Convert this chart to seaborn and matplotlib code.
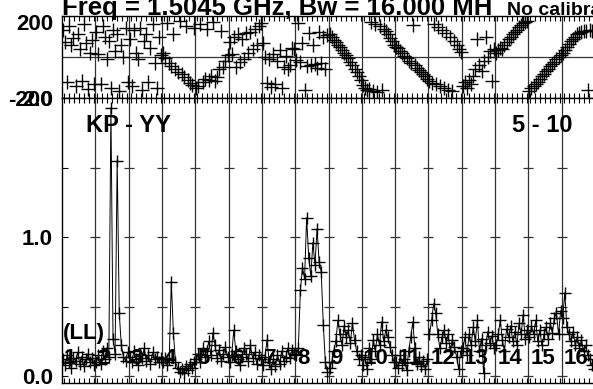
import numpy as np
import pandas as pd
import matplotlib
matplotlib.use("Agg")
import matplotlib.pyplot as plt
import seaborn as sns
from matplotlib.transforms import ScaledTranslation

# 16 IFs x 16 channels
n_if = 16
n_chan = 16
if_labels = [str(i) for i in range(1, n_if + 1)]
title = "Freq = 1.5045 GHz, Bw = 16.000 MH"
title_note = "No calibration"
baseline_label = "KP - YY"
time_label = "5 - 10"
stokes_label = "(LL)"

phase = [
    130, 75, -120, 150, 60, 95, -140, 110, 40, -115, 160, 70, -155, 20, 85, -130,
    120, 15, -130, 150, 100, -10, 80, -150, 130, 30, 110, -165, 60, 0, 140, -120,
    90, -140, 130, 20, -10, 140, -160, 80, 110, -120, 45, 160, -30, -150, 100, 10,
    20, -5, 165, -30, -45, 110, -60, -75, 175, -85, -100, 150, -110, -125, -135, 140,
    -150, -140, 160, -120, -105, 135, -110, -95, 170, -115, -100, -60, 125, -50, -20, 10,
    75, 15, 100, -50, 110, -25, 90, -10, 115, 20, 120, 40, 135, 60, 150, 165,
    70, 0, -125, -10, -145, 15, -130, -20, 35, -150, -50, 5, -60, -40, 45, 40,
    -15, 165, -25, 70, -160, -45, 115, -40, 60, -35, -55, 120, -30, 100, -60, 105,
    110, 100, 85, 75, 60, 50, 35, 20, 10, -5, -25, -40, -60, -75, -95, -110,
    -135, -150, -160, -155, 172, -165, 160, -170, 150, -160, 135, 125, 110, 95, 80, 60,
    50, 45, 30, 20, 5, -5, -20, -30, 155, -40, -55, -65, -75, -85, -95, -105,
    -115, -125, 160, -130, 145, -140, 130, -150, 115, -160, 100, -165, 80, 60, 40, 25,
    -140, -120, -150, -110, -130, -95, -60, 90, -40, -70, -20, 100, 0, 30, -115, 40,
    20, 35, 45, 40, 60, 75, 90, 100, 110, 120, 130, 145, 155, 165, 170, 178,
    -165, -150, -140, -130, -120, -105, -95, -85, -70, -60, -45, -35, -25, -10, 0, 10,
    20, 35, 50, 65, 80, 90, 100, 110, 115, 120, 125, 125, -160, 130, 128, 130,
]

amp = [
    0.12, 0.08, 0.15, 0.10, 0.06, 0.13, 0.11, 0.17, 0.09, 0.14, 0.07, 0.12, 0.16, 0.10, 0.13, 0.08,
    0.10, 0.15, 0.09, 0.18, 0.12, 0.20, 0.14, 1.93, 0.27, 0.16, 1.55, 0.45, 0.22, 0.14, 0.11, 0.17,
    0.14, 0.10, 0.18, 0.12, 0.08, 0.16, 0.13, 0.20, 0.11, 0.15, 0.09, 0.17, 0.12, 0.14, 0.10, 0.13,
    0.10, 0.13, 0.08, 0.12, 0.68, 0.31, 0.10, 0.06, 0.03, 0.05, 0.02, 0.07, 0.04, 0.09, 0.06, 0.10,
    0.12, 0.16, 0.10, 0.20, 0.14, 0.18, 0.25, 0.15, 0.31, 0.22, 0.13, 0.19, 0.11, 0.16, 0.21, 0.14,
    0.10, 0.15, 0.33, 0.18, 0.12, 0.08, 0.14, 0.20, 0.16, 0.11, 0.22, 0.13, 0.17, 0.09, 0.15, 0.12,
    0.08, 0.14, 0.26, 0.10, 0.05, 0.12, 0.07, 0.15, 0.09, 0.18, 0.11, 0.14, 0.20, 0.13, 0.19, 0.16,
    0.15, 0.20, 0.62, 0.78, 0.70, 1.14, 0.85, 0.72, 0.96, 0.80, 1.06, 0.82, 0.75, 0.37, 0.10, 0.03,
    0.06, 0.10, 0.18, 0.25, 0.40, 0.30, 0.22, 0.36, 0.28, 0.33, 0.24, 0.38, 0.26, 0.18, 0.12, 0.15,
    0.08, 0.14, 0.05, 0.20, 0.12, 0.26, 0.18, 0.30, 0.22, 0.39, 0.25, 0.33, 0.28, 0.21, 0.15, 0.10,
    0.10, 0.06, 0.15, 0.08, 0.12, 0.04, 0.18, 0.28, 0.39, 0.20, 0.09, 0.14, 0.07, 0.11, 0.05, 0.12,
    0.30, 0.40, 0.52, 0.45, 0.30, 0.20, 0.28, 0.33, 0.24, 0.30, 0.18, 0.26, 0.21, 0.14, 0.05, 0.18,
    0.20, 0.28, 0.15, 0.30, 0.22, 0.35, 0.25, 0.40, 0.18, 0.27, 0.02, 0.22, 0.32, 0.24, 0.29, 0.20,
    0.22, 0.30, 0.40, 0.26, 0.18, 0.34, 0.28, 0.36, 0.25, 0.32, 0.22, 0.38, 0.30, 0.44, 0.27, 0.33,
    0.28, 0.36, 0.30, 0.40, 0.25, 0.33, 0.22, 0.30, 0.35, 0.27, 0.38, 0.31, 0.42, 0.45, 0.30, 0.47,
    0.42, 0.60, 0.35, 0.30, 0.25, 0.32, 0.22, 0.28, 0.20, 0.26, 0.18, 0.22, 0.15, 0.12, 0.08, 0.05,
]

chan = np.arange(n_if * n_chan)
df = pd.DataFrame({"chan": chan, "ifno": chan // n_chan, "amp": amp, "phase": phase})

sns.set_style("white")
plt.rcParams["font.family"] = ["Liberation Sans", "DejaVu Sans"]
plt.rcParams["font.weight"] = "bold"
plt.rcParams["font.size"] = 16
plt.rcParams["text.color"] = "black"
plt.rcParams["ytick.color"] = "black"
plt.rcParams["xtick.color"] = "black"

W, H = 593, 389
fig = plt.figure(figsize=(W / 100, H / 100), dpi=100)
ax_ph = fig.add_axes([62 / W, 1 - 98 / H, 533 / W, 82 / H])
ax_amp = fig.add_axes([62 / W, 1 - 383 / H, 533 / W, 285 / H])

ink = "black"
sns.scatterplot(data=df, x="chan", y="phase", marker="+", s=95, color=ink,
                linewidth=1.0, ax=ax_ph, legend=False, clip_on=True)
sns.lineplot(data=df, x="chan", y="amp", units="ifno", estimator=None,
             color="black", lw=0.7, marker="+", markersize=9,
             markeredgewidth=1.0, markeredgecolor=ink, ax=ax_amp, legend=False)

bounds = np.arange(1, n_if) * n_chan - 0.5
minor = np.concatenate([k * n_chan - 0.5 + 1 + 2.4 * np.arange(7) for k in range(n_if)])

for ax in (ax_ph, ax_amp):
    ax.set_xlim(-0.5, n_if * n_chan - 0.5)
    for b in bounds:
        ax.axvline(b, color="#333333", lw=0.9, zorder=0)
    ax.set_xticks([])
    ax.set_xticks(minor, minor=True)
    ax.tick_params(axis="x", which="minor", direction="in", top=True, bottom=True,
                   length=3.5, width=0.8, color="black")
    ax.tick_params(axis="y", direction="in", left=True, length=4, width=0.8,
                   pad=6.5, labelsize=16, color="black", labelcolor="black")
    ax.set_xlabel("")
    ax.set_ylabel("")
    for sp in ax.spines.values():
        sp.set_color("black")
        sp.set_linewidth(1.0)

ax_ph.set_ylim(-200, 200)
ax_ph.axhline(0, color="#333333", lw=0.9, zorder=0)
ax_ph.set_yticks([-200, 200])
ax_ph.set_yticklabels(["-200", "200"], fontweight="bold")
top_lab = ax_ph.get_yticklabels()[1]
top_lab.set_transform(top_lab.get_transform() + ScaledTranslation(0, -4 / 72, fig.dpi_scale_trans))

ax_amp.set_ylim(-0.05, 2.0)
ax_amp.set_yticks([0, 0.5, 1.0, 1.5, 2.0])
ax_amp.set_yticklabels(["0.0", "", "1.0", "", "2.0"], fontweight="bold")
bx, by = np.meshgrid(bounds, [0, 0.5, 1.0, 1.5])
ax_amp.plot(bx.ravel(), by.ravel(), ls="none", marker="_", ms=7.5, mew=0.9,
            color="#333333", zorder=1)

for k, lab in enumerate(if_labels):
    ax_amp.text(k * n_chan - 0.5 + 1.0, 0.085, lab, fontsize=16, fontweight="bold",
                ha="left", va="baseline", color="black")

ax_amp.text(0.045, 0.881, baseline_label, transform=ax_amp.transAxes, fontsize=17,
            fontweight="bold", ha="left", va="baseline")
ax_amp.text(0.957, 0.881, time_label, transform=ax_amp.transAxes, fontsize=17,
            fontweight="bold", ha="right", va="baseline")
ax_amp.text(0.002, 0.154, stokes_label, transform=ax_amp.transAxes, fontsize=16,
            fontweight="bold", ha="left", va="baseline")

fig.text(62 / W, 1 - 15 / H, title, fontsize=18.5, fontweight="bold",
         ha="left", va="baseline")
fig.text(507 / W, 1 - 15 / H, title_note, fontsize=14, fontweight="bold",
         ha="left", va="baseline")

fig.savefig("out.png", dpi=100)
